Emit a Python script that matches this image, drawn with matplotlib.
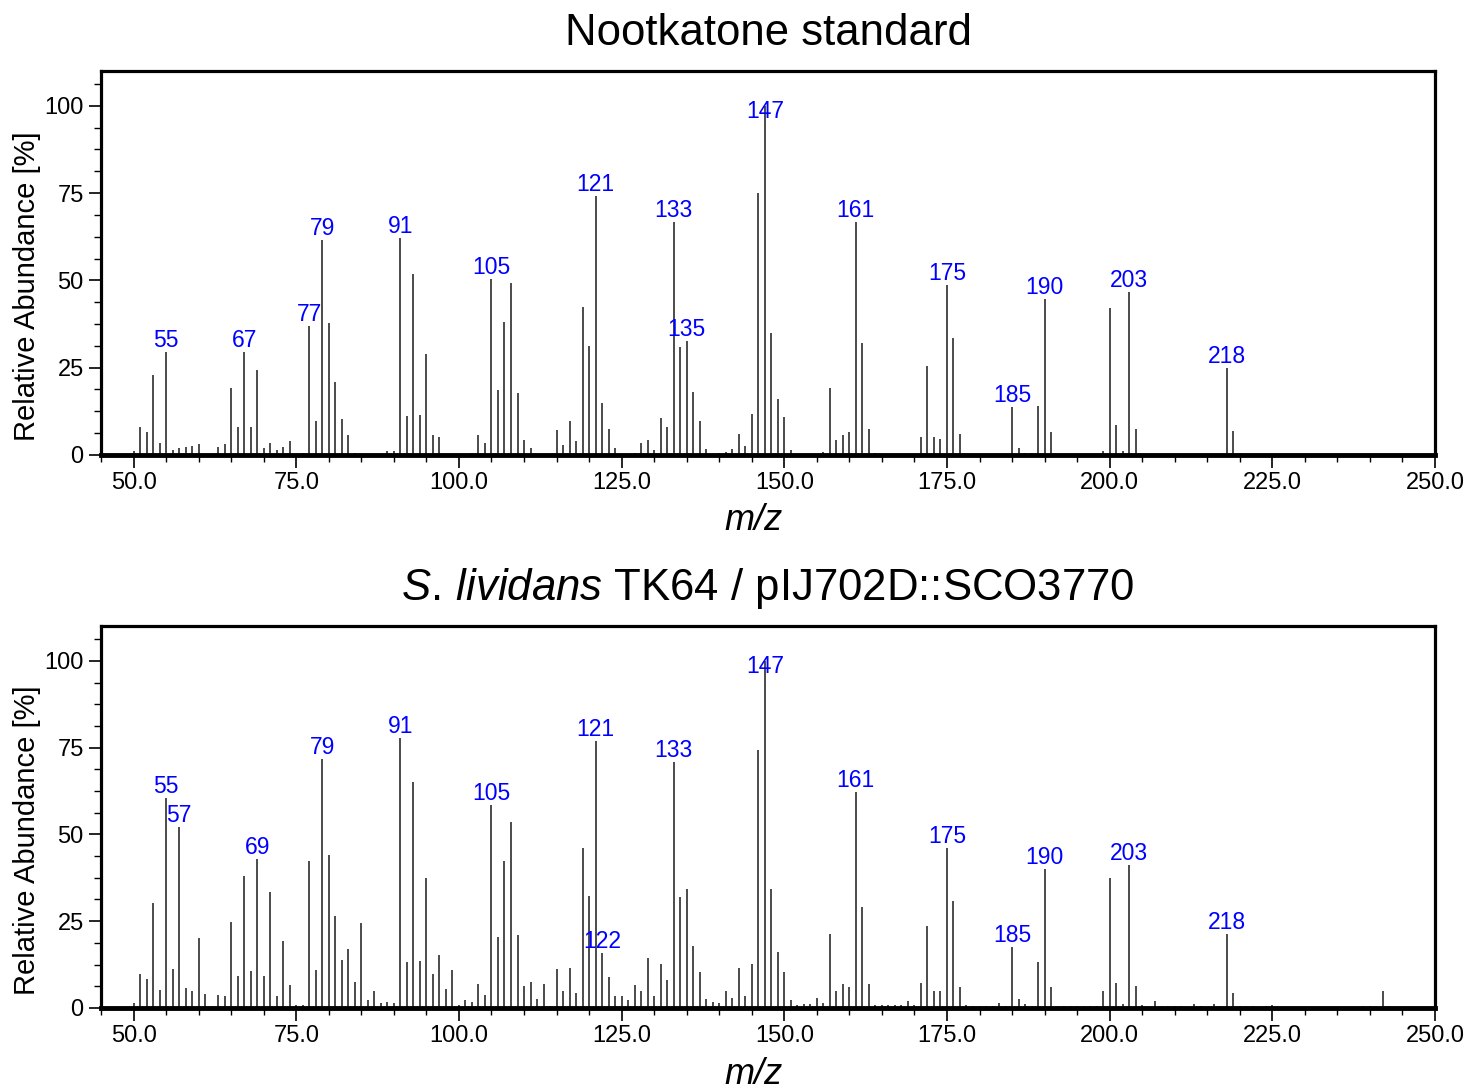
import numpy as np
import matplotlib
matplotlib.use("Agg")
import matplotlib.pyplot as plt
from matplotlib.ticker import MultipleLocator, FuncFormatter

plt.rcParams['font.family'] = ['Liberation Sans', 'DejaVu Sans']
plt.rcParams['mathtext.fontset'] = 'custom'
plt.rcParams['mathtext.rm'] = 'Liberation Sans'
plt.rcParams['mathtext.it'] = 'Liberation Sans:italic'

# ---- data: Nootkatone standard ----
std_mz = [50, 51, 52, 53, 54, 55, 56, 57, 58, 59, 60, 61, 63, 64, 65, 66, 67, 68, 69, 70,
          71, 72, 73, 74, 75, 76, 77, 78, 79, 80, 81, 82, 83, 84, 88, 89, 90, 91, 92, 93,
          94, 95, 96, 97, 98, 102, 103, 104, 105, 106, 107, 108, 109, 110, 111, 115, 116,
          117, 118, 119, 120, 121, 122, 123, 124, 125, 127, 128, 129, 130, 131, 132, 133,
          134, 135, 136, 137, 138, 140, 141, 142, 143, 144, 145, 146, 147, 148, 149, 150,
          151, 156, 157, 158, 159, 160, 161, 162, 163, 164, 170, 171, 172, 173, 174, 175,
          176, 177, 178, 185, 186, 187, 188, 189, 190, 191, 192, 199, 200, 201, 202, 203,
          204, 205, 217, 218, 219, 220]
std_int = [1.0, 8.1, 6.7, 23.0, 3.3, 29.4, 1.3, 2.1, 2.4, 2.7, 3.1, 0.2, 2.4, 3.1, 19.2, 8.1,
           29.4, 7.9, 24.2, 2.0, 3.4, 1.4, 2.4, 4.1, 0.4, 0.7, 36.8, 9.6, 61.7, 37.9, 20.8,
           10.2, 5.7, 0.7, 0.4, 1.1, 1.0, 62.0, 11.1, 51.9, 11.3, 28.8, 5.8, 5.1, 0.4, 0.7,
           5.6, 3.5, 50.4, 18.6, 38.1, 49.2, 17.7, 4.3, 2.0, 7.2, 2.9, 9.8, 4.0, 42.3, 31.1,
           74.1, 15.0, 7.5, 2.0, 0.4, 0.7, 3.3, 4.3, 1.5, 10.7, 7.9, 66.8, 30.9, 32.7, 18.0,
           9.8, 1.7, 0.7, 0.8, 1.8, 6.1, 2.7, 11.7, 74.9, 100.0, 35.0, 15.9, 10.8, 1.3, 0.9,
           19.2, 4.3, 5.6, 6.6, 66.8, 32.2, 7.4, 0.5, 0.4, 5.2, 25.4, 5.0, 4.7, 48.8, 33.6,
           6.1, 0.4, 13.7, 2.0, 0.6, 0.6, 14.0, 44.7, 6.6, 0.4, 1.1, 42.0, 8.5, 1.1, 46.6,
           7.4, 0.4, 0.4, 24.8, 7.0, 0.6]
std_labels = [55, 67, 77, 79, 91, 105, 121, 133, 135, 147, 161, 175, 185, 190, 203, 218]

# ---- data: S. lividans TK64 / pIJ702D::SCO3770 ----
smp_mz = [50, 51, 52, 53, 54, 55, 56, 57, 58, 59, 60, 61, 62, 63, 64, 65, 66, 67, 68, 69,
          70, 71, 72, 73, 74, 75, 76, 77, 78, 79, 80, 81, 82, 83, 84, 85, 86, 87, 88, 89,
          90, 91, 92, 93, 94, 95, 96, 97, 98, 99, 100, 101, 102, 103, 104, 105, 106, 107,
          108, 109, 110, 111, 112, 113, 114, 115, 116, 117, 118, 119, 120, 121, 122, 123,
          124, 125, 126, 127, 128, 129, 130, 131, 132, 133, 134, 135, 136, 137, 138, 139,
          140, 141, 142, 143, 144, 145, 146, 147, 148, 149, 150, 151, 152, 153, 154, 155,
          156, 157, 158, 159, 160, 161, 162, 163, 164, 165, 166, 167, 168, 169, 170, 171,
          172, 173, 174, 175, 176, 177, 178, 179, 180, 181, 182, 183, 184, 185, 186, 187,
          188, 189, 190, 191, 192, 193, 194, 195, 196, 197, 198, 199, 200, 201, 202, 203,
          204, 205, 207, 208, 209, 210, 211, 213, 214, 216, 217, 218, 219, 220, 221, 222,
          224, 225, 239, 240, 242, 243]
smp_int = [1.4, 9.9, 8.4, 30.1, 5.2, 60.4, 11.1, 52.1, 5.7, 4.9, 20.1, 4.1, 0.5, 3.6, 3.4,
           24.9, 9.2, 38.1, 10.7, 42.8, 9.2, 33.5, 3.4, 19.2, 6.7, 0.9, 1.0, 42.2, 10.9, 71.8,
           44.1, 26.4, 13.8, 17.1, 7.4, 24.6, 2.2, 5.0, 1.3, 1.8, 1.5, 77.8, 13.2, 65.2, 13.4,
           37.4, 9.7, 15.3, 5.5, 10.9, 0.9, 2.4, 1.8, 6.9, 3.8, 58.5, 20.4, 42.4, 53.5, 21.1,
           6.4, 7.4, 2.6, 6.9, 0.7, 11.1, 4.8, 11.5, 4.3, 46.1, 32.2, 77.0, 15.7, 9.0, 3.4,
           3.5, 2.2, 6.6, 4.9, 14.3, 3.4, 12.8, 8.0, 70.9, 32.1, 34.3, 17.8, 10.5, 2.6, 1.8,
           1.5, 5.0, 2.8, 11.5, 3.4, 12.8, 74.3, 100.0, 34.3, 16.0, 10.5, 2.2, 0.9, 1.2, 1.1,
           2.8, 1.3, 21.2, 4.8, 6.8, 5.9, 62.3, 29.2, 6.9, 0.9, 0.8, 0.8, 0.8, 0.8, 1.9, 0.9,
           7.2, 23.6, 4.8, 4.8, 46.0, 30.9, 6.1, 0.8, 0.6, 0.6, 0.6, 0.6, 1.4, 0.7, 17.5, 2.6,
           1.1, 0.6, 13.2, 39.9, 5.9, 0.6, 0.6, 0.6, 0.6, 0.6, 0.6, 0.6, 4.8, 37.4, 7.3, 1.2,
           41.3, 6.3, 0.8, 1.9, 0.7, 0.7, 0.7, 0.7, 1.2, 0.7, 1.1, 0.7, 21.3, 4.3, 0.5, 0.5,
           0.5, 0.5, 0.9, 0.5, 0.5, 4.9, 0.5]
smp_labels = [55, 57, 69, 79, 91, 105, 121, 122, 133, 147, 161, 175, 185, 190, 203, 218]

titles = ["Nootkatone standard", r"$\it{S.\,lividans}$ TK64 / pIJ702D::SCO3770"]

fig = plt.figure(figsize=(14.73, 10.91), dpi=100)
rects = [[0.0686, 0.583, 0.9056, 0.352], [0.0686, 0.0761, 0.9056, 0.350]]
sets = [(std_mz, std_int, std_labels), (smp_mz, smp_int, smp_labels)]
xlab_y = [-0.125, -0.128]

for rect, (mz, inten, labels), title, xly in zip(rects, sets, titles, xlab_y):
    ax = fig.add_axes(rect)
    mz = np.array(mz)
    inten = np.array(inten)
    ax.vlines(mz, 0, inten, colors='#1a1a1a', linewidth=1.1)
    for m in labels:
        v = inten[mz == m][0]
        ax.text(m, min(v, 95), str(m), color='#0000ff', ha='center', va='bottom',
                fontsize=16.5)
    ax.set_xlim(45, 250)
    ax.set_ylim(0, 110)
    ax.xaxis.set_major_locator(MultipleLocator(25))
    ax.xaxis.set_minor_locator(MultipleLocator(5))
    ax.yaxis.set_major_locator(MultipleLocator(25))
    ax.yaxis.set_minor_locator(MultipleLocator(6.25))
    ax.xaxis.set_major_formatter(FuncFormatter(lambda x, p: '%.1f' % x))
    ax.tick_params(which='major', direction='out', length=9, width=1.2, labelsize=17)
    ax.tick_params(which='minor', direction='out', length=5, width=1.0)
    for s in ax.spines.values():
        s.set_linewidth(2.3)
    ax.spines['bottom'].set_linewidth(3.5)
    ax.set_ylabel('Relative Abundance [%]', fontsize=21)
    ax.yaxis.set_label_coords(-0.045, 0.44)
    ax.set_xlabel('m/z', fontsize=26, style='italic')
    ax.xaxis.set_label_coords(0.489, xly)
    ax.set_title(title, fontsize=31.5, pad=19)

fig.savefig('out.png', dpi=100)
